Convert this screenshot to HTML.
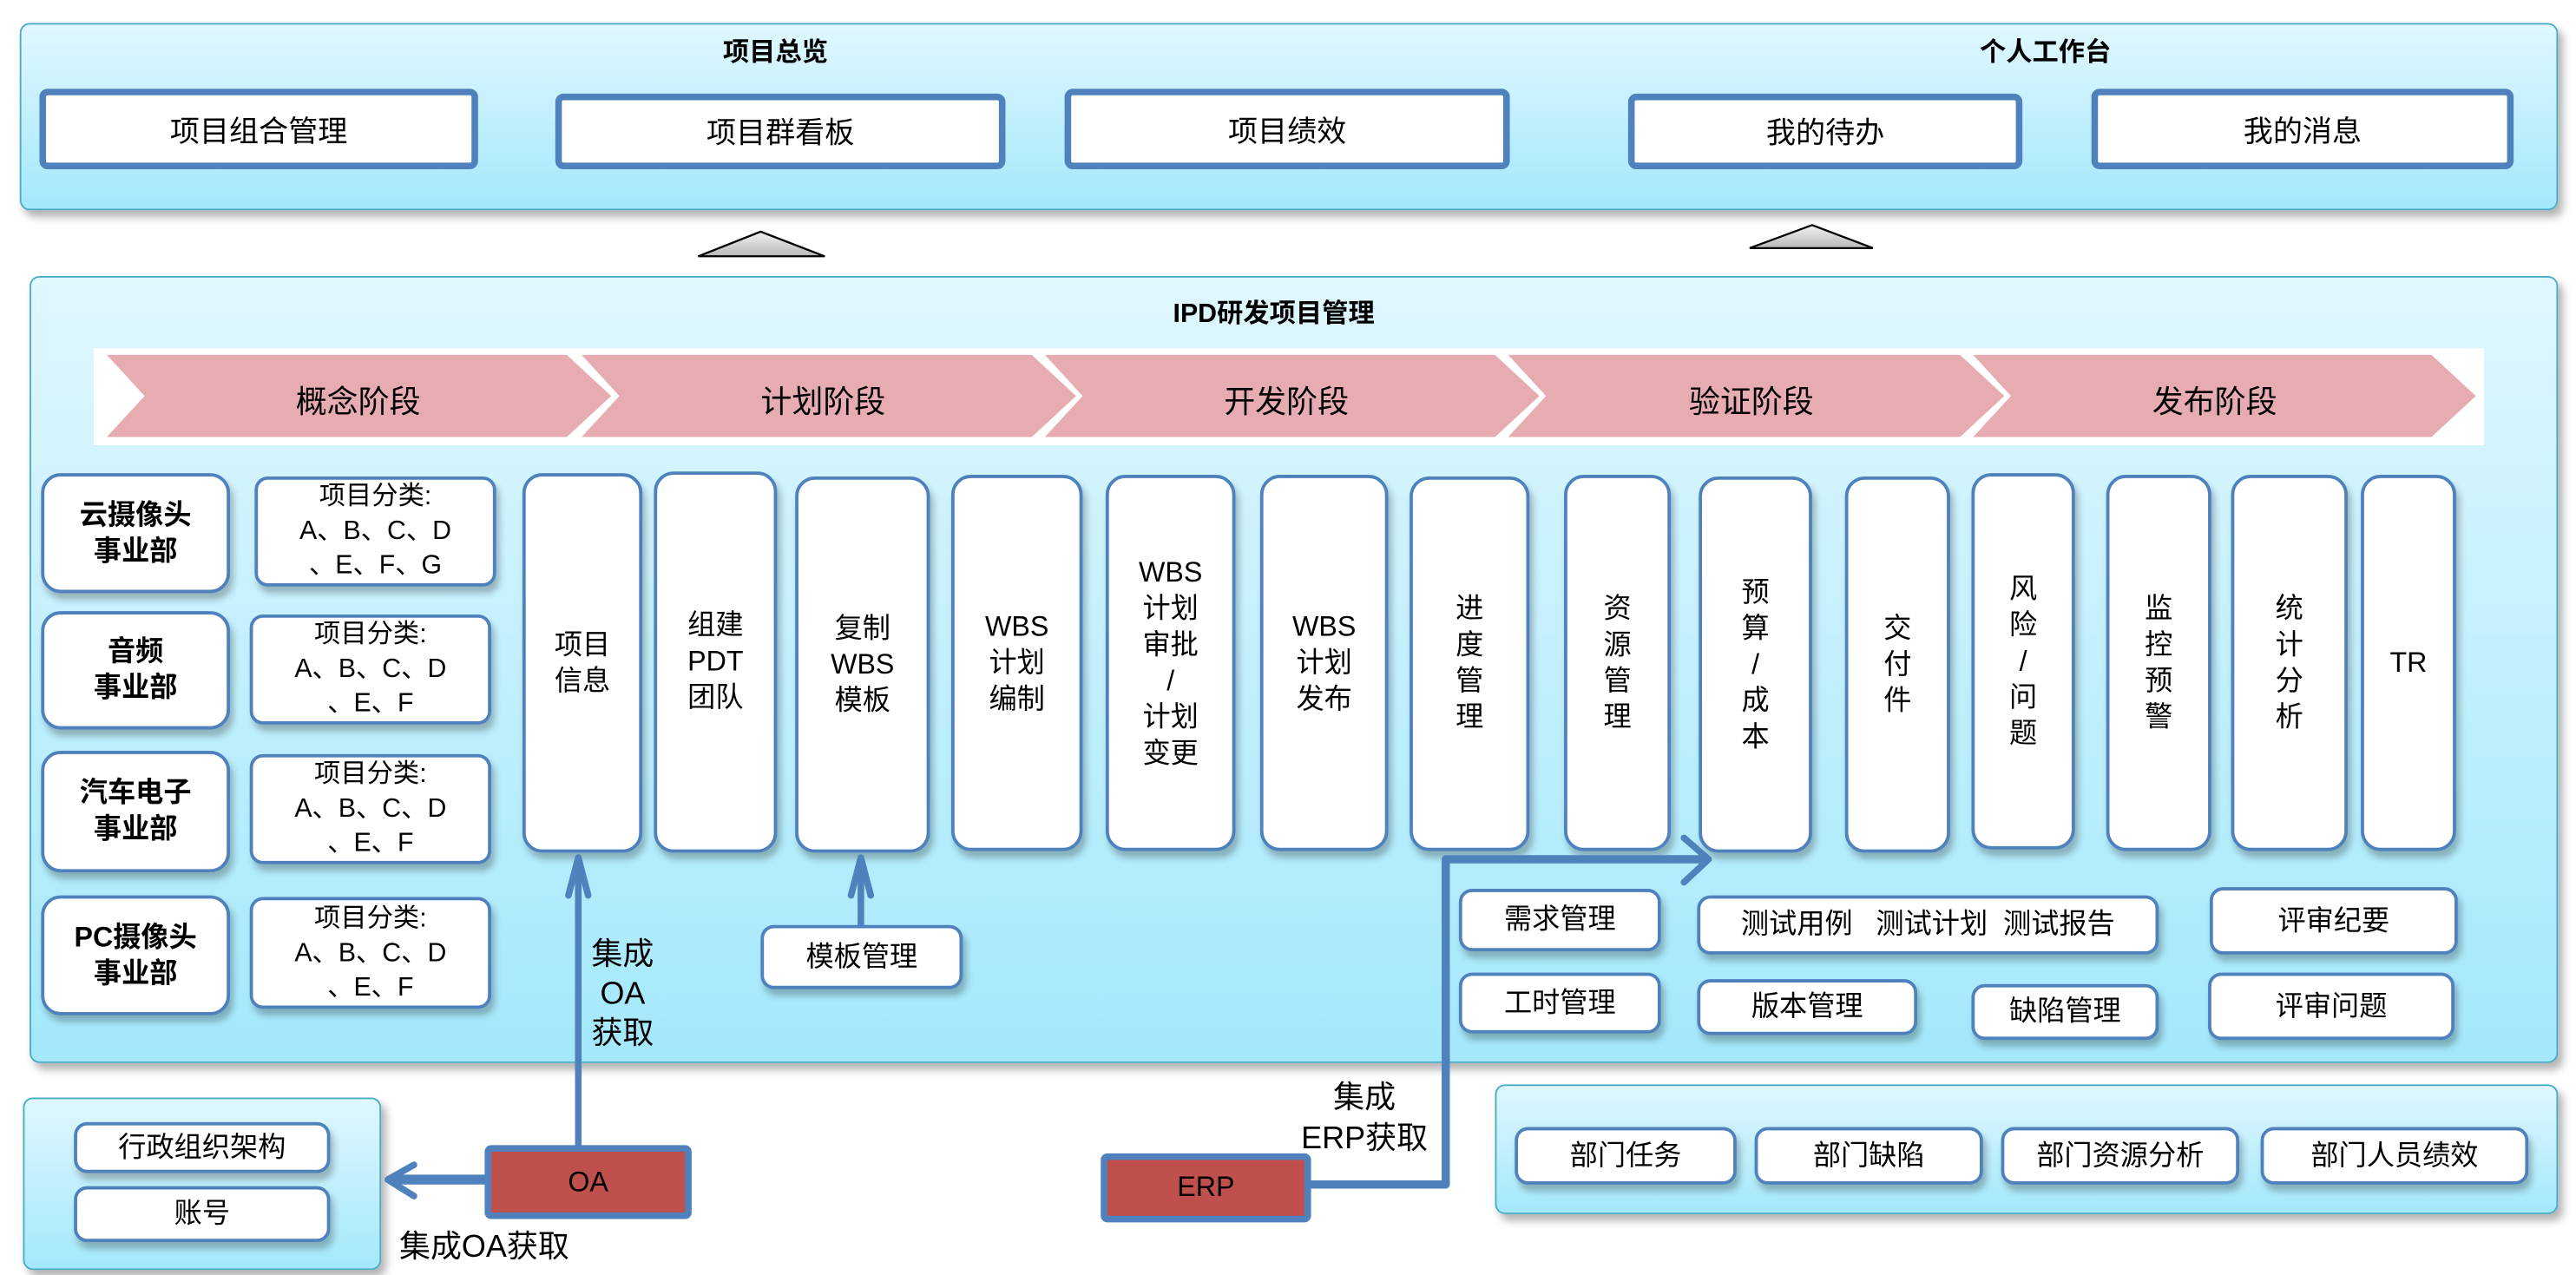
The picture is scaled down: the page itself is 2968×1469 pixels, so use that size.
<!DOCTYPE html>
<html><head><meta charset="utf-8"><style>
html,body{margin:0;padding:0;background:#fff;}
body{width:2968px;height:1468px;overflow:hidden;position:relative;}
#w{position:absolute;left:0;top:0;width:1568px;height:776px;transform:scale(1.8929);transform-origin:0 0;font-family:"Liberation Sans","Noto Sans CJK SC",sans-serif;color:#000;}
.panel{position:absolute;border:1.5px solid #4bacc6;border-radius:6px;background:linear-gradient(#e0f7fe,#a4e8fb);box-shadow:3px 4px 5px rgba(0,0,0,0.3);box-sizing:border-box;}
.tb{position:absolute;background:#fff;border:4px solid #4f81bd;border-radius:5px;box-sizing:border-box;display:flex;align-items:center;justify-content:center;font-size:18px;}
.b{position:absolute;background:#fff;border:2px solid #4f81bd;border-radius:8px;box-sizing:border-box;display:flex;align-items:center;justify-content:center;text-align:center;font-size:17px;line-height:22px;box-shadow:2px 4px 4px rgba(0,0,0,0.25);}
.col{border-radius:12px;}
.t{position:absolute;font-size:17px;white-space:nowrap;}
.bold{font-weight:bold;}
.red{position:absolute;background:#c0504d;border:4px solid #4f81bd;border-radius:4px;box-sizing:border-box;display:flex;align-items:center;justify-content:center;font-size:17px;}
</style></head><body><div id="w">
<!-- top panel -->
<div class="panel" style="left:12px;top:14px;width:1545px;height:114px;"></div>
<div class="t bold" style="left:440px;top:18px;font-size:16px;">项目总览</div>
<div class="t bold" style="left:1205px;top:18px;font-size:16px;">个人工作台</div>
<div class="tb" style="left:24px;top:54px;width:267px;height:49px;">项目组合管理</div>
<div class="tb" style="left:338px;top:57px;width:274px;height:46px;">项目群看板</div>
<div class="tb" style="left:648px;top:54px;width:271px;height:49px;">项目绩效</div>
<div class="tb" style="left:991px;top:57px;width:240px;height:46px;">我的待办</div>
<div class="tb" style="left:1273px;top:54px;width:257px;height:49px;">我的消息</div>
<svg style="position:absolute;left:0;top:0" width="1568" height="776">
<defs><linearGradient id="tg" x1="0" y1="0" x2="0" y2="1"><stop offset="0" stop-color="#f2f2f2"/><stop offset="1" stop-color="#b8b8b8"/></linearGradient></defs>
<polygon points="425,156 463,141 502,156" fill="url(#tg)" stroke="#000" stroke-width="1.2"/>
<polygon points="1065,151 1103,137 1140,151" fill="url(#tg)" stroke="#000" stroke-width="1.2"/>
</svg>
<!-- main panel -->
<div class="panel" style="left:18px;top:168px;width:1539px;height:479px;"></div>
<div class="t bold" style="left:714px;top:177px;font-size:16px;">IPD研发项目管理</div>
<div style="position:absolute;left:57px;top:212px;width:1455px;height:59px;background:#fff;"></div>
<svg style="position:absolute;left:0;top:0" width="1568" height="776">
<g fill="#e6acb1">
<polygon points="65,216 345,216 372,241 345,266 65,266 88,241"/>
<polygon points="354,216 628,216 655,241 628,266 354,266 377,241"/>
<polygon points="636,216 910,216 937,241 910,266 636,266 659,241"/>
<polygon points="918,216 1193,216 1220,241 1193,266 918,266 941,241"/>
<polygon points="1201,216 1480,216 1507,241 1480,266 1201,266 1224,241"/>
</g>
</svg>
<div class="t" style="left:180px;top:230px;font-size:19px;">概念阶段</div>
<div class="t" style="left:463px;top:230px;font-size:19px;">计划阶段</div>
<div class="t" style="left:745px;top:230px;font-size:19px;">开发阶段</div>
<div class="t" style="left:1028px;top:230px;font-size:19px;">验证阶段</div>
<div class="t" style="left:1310px;top:230px;font-size:19px;">发布阶段</div>
<!-- dept rows -->
<div class="b bold" style="left:25px;top:288px;width:115px;height:73px;border-radius:12px;">云摄像头<br>事业部</div>
<div class="b bold" style="left:25px;top:372px;width:115px;height:72px;border-radius:12px;">音频<br>事业部</div>
<div class="b bold" style="left:25px;top:457px;width:115px;height:74px;border-radius:12px;">汽车电子<br>事业部</div>
<div class="b bold" style="left:25px;top:545px;width:115px;height:73px;border-radius:12px;">PC摄像头<br>事业部</div>
<div class="b" style="left:155px;top:290px;width:147px;height:67px;font-size:16px;line-height:21px;">项目分类:<br>A、B、C、D<br>、E、F、G</div>
<div class="b" style="left:152px;top:374px;width:147px;height:67px;font-size:16px;line-height:21px;">项目分类:<br>A、B、C、D<br>、E、F</div>
<div class="b" style="left:152px;top:459px;width:147px;height:67px;font-size:16px;line-height:21px;">项目分类:<br>A、B、C、D<br>、E、F</div>
<div class="b" style="left:152px;top:546px;width:147px;height:68px;font-size:16px;line-height:21px;">项目分类:<br>A、B、C、D<br>、E、F</div>
<!-- columns -->
<div class="b col" style="left:318px;top:288px;width:73px;height:231px;">项目<br>信息</div>
<div class="b col" style="left:398px;top:287px;width:75px;height:232px;">组建<br>PDT<br>团队</div>
<div class="b col" style="left:484px;top:290px;width:82px;height:229px;">复制<br>WBS<br>模板</div>
<div class="b col" style="left:579px;top:289px;width:80px;height:229px;">WBS<br>计划<br>编制</div>
<div class="b col" style="left:673px;top:289px;width:79px;height:229px;">WBS<br>计划<br>审批<br>/<br>计划<br>变更</div>
<div class="b col" style="left:767px;top:289px;width:78px;height:229px;">WBS<br>计划<br>发布</div>
<div class="b col" style="left:858px;top:290px;width:73px;height:228px;">进<br>度<br>管<br>理</div>
<div class="b col" style="left:952px;top:289px;width:65px;height:229px;">资<br>源<br>管<br>理</div>
<div class="b col" style="left:1034px;top:290px;width:69px;height:229px;">预<br>算<br>/<br>成<br>本</div>
<div class="b col" style="left:1123px;top:290px;width:64px;height:229px;">交<br>付<br>件</div>
<div class="b col" style="left:1200px;top:288px;width:63px;height:229px;">风<br>险<br>/<br>问<br>题</div>
<div class="b col" style="left:1282px;top:289px;width:64px;height:229px;">监<br>控<br>预<br>警</div>
<div class="b col" style="left:1358px;top:289px;width:71px;height:229px;">统<br>计<br>分<br>析</div>
<div class="b col" style="left:1437px;top:289px;width:58px;height:229px;">TR</div>
<!-- small boxes -->
<div class="b" style="left:463px;top:563px;width:123px;height:39px;">模板管理</div>
<div class="b" style="left:888px;top:541px;width:123px;height:38px;">需求管理</div>
<div class="b" style="left:888px;top:592px;width:123px;height:37px;">工时管理</div>
<div class="b" style="left:1033px;top:545px;width:281px;height:36px;">测试用例&nbsp;&nbsp;&nbsp;测试计划&nbsp;&nbsp;测试报告</div>
<div class="b" style="left:1033px;top:596px;width:134px;height:34px;">版本管理</div>
<div class="b" style="left:1200px;top:599px;width:114px;height:34px;">缺陷管理</div>
<div class="b" style="left:1345px;top:540px;width:151px;height:41px;">评审纪要</div>
<div class="b" style="left:1344px;top:592px;width:150px;height:41px;">评审问题</div>
<!-- bottom left panel -->
<div class="panel" style="left:14px;top:668px;width:218px;height:105px;"></div>
<div class="b" style="left:45px;top:683px;width:156px;height:31px;">行政组织架构</div>
<div class="b" style="left:45px;top:722px;width:156px;height:34px;">账号</div>
<!-- bottom right panel -->
<div class="panel" style="left:910px;top:660px;width:647px;height:79px;"></div>
<div class="b" style="left:922px;top:686px;width:135px;height:35px;">部门任务</div>
<div class="b" style="left:1068px;top:686px;width:139px;height:35px;">部门缺陷</div>
<div class="b" style="left:1218px;top:686px;width:145px;height:35px;">部门资源分析</div>
<div class="b" style="left:1376px;top:686px;width:163px;height:35px;">部门人员绩效</div>
<!-- arrows -->
<svg style="position:absolute;left:0;top:0" width="1568" height="776">
<g stroke="#4f81bd" fill="none" stroke-linecap="round" stroke-linejoin="round">
<line x1="352" y1="700" x2="352" y2="524" stroke-width="4"/>
<polyline points="346,545 352,522 358,545" stroke-width="4"/>
<line x1="524" y1="563" x2="524" y2="524" stroke-width="4"/>
<polyline points="518,545 524,522 530,545" stroke-width="4"/>
<line x1="297" y1="718" x2="240" y2="718" stroke-width="6"/>
<polyline points="252,709 236,718 252,728" stroke-width="4"/>
<polyline points="797,721 880,721 880,523 1036,523" stroke-width="5"/>
<polyline points="1025,510 1040,523 1025,537" stroke-width="4"/>
</g>
</svg>
<div class="red" style="left:295px;top:697px;width:126px;height:45px;">OA</div>
<div class="red" style="left:670px;top:702px;width:128px;height:42px;">ERP</div>
<div class="t" style="left:360px;top:570px;font-size:19px;line-height:24px;text-align:center;">集成<br>OA<br>获取</div>
<div class="t" style="left:243px;top:744px;font-size:19px;">集成OA获取</div>
<div class="t" style="left:792px;top:656px;font-size:19px;line-height:25px;text-align:center;">集成<br>ERP获取</div>
</div></body></html>
